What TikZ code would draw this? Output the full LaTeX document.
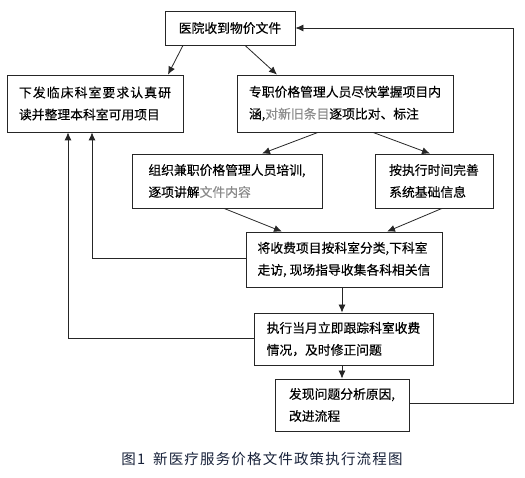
\documentclass[tikz,border=0pt]{standalone}
\usepackage{fontspec}
\newfontfamily\cjk[FakeBold=0.2]{Noto Sans CJK SC}
\newfontfamily\capfont[LetterSpace=8]{Noto Sans CJK SC}
\usetikzlibrary{arrows.meta}
\definecolor{txtgray}{HTML}{8A8A8A}
\definecolor{capblue}{HTML}{18223A}
\tikzset{
  box/.style={draw=black!85, line width=0.8pt, rectangle, inner sep=0pt, font=\cjk\fontsize{12.8}{22}\selectfont},
  conn/.style={draw=black!85, line width=0.8pt, -{Latex[length=8pt,width=7pt]}},
}
\begin{document}
\begin{tikzpicture}[x=1pt,y=-1pt]
\useasboundingbox (0,0) rectangle (525,478);
\fill[white] (0,0) rectangle (525,478);
% boxes
\node[box, minimum width=130pt, minimum height=34pt] (A) at (230,28) {医院收到物价文件};
\node[box, minimum width=176pt, minimum height=57pt, align=left] (B) at (95,103.5)
  {\makebox[152pt][s]{下\hfil 发\hfil 临\hfil 床\hfil 科\hfil 室\hfil 要\hfil 求\hfil 认\hfil 真\hfil 研}\\读并整理本科室可用项目\hspace{12pt}};
\node[box, minimum width=216pt, minimum height=57pt, align=left] (C) at (345,103.5)
  {专职价格管理人员尽快掌握项目内\\涵,{\color{txtgray}对新旧条目}逐项比对、标注\hspace{52pt}};
\node[box, minimum width=190pt, minimum height=54pt, align=left] (D) at (227,181)
  {组织兼职价格管理人员培训,\\逐项讲解{\color{txtgray}文件内容}\hspace{70pt}};
\node[box, minimum width=118pt, minimum height=54pt, align=left] (E) at (434,181)
  {按执行时间完善\\系统基础信息};
\node[box, minimum width=196pt, minimum height=55pt, align=left] (F) at (344,259.5)
  {将收费项目按科室分类,下科室\\走访, 现场指导收集各科相关信};
\node[box, minimum width=179pt, minimum height=52pt, align=left] (G) at (343.5,339)
  {执行当月立即跟踪科室收费\\情况，及时修正问题\hspace{38pt}};
\node[box, minimum width=134pt, minimum height=52pt, align=left] (H) at (342,405)
  {发现问题分析原因,\\改进流程\hspace{60pt}};
% caption
\node[font=\capfont\fontsize{14.5}{16}\selectfont, text=capblue] (cap) at (262,459) {图1\hspace{8pt}新医疗服务价格文件政策执行流程图};
% connectors
\draw[conn] ([xshift=-47pt]A.south) -- ([xshift=73pt]B.north);
\draw[conn] ([xshift=15pt]A.south) -- ([xshift=-68pt]C.north);
\draw[conn] ([xshift=-27pt]C.south) -- ([xshift=35pt]D.north);
\draw[conn] ([xshift=28pt]C.south) -- ([xshift=-4pt]E.north);
\draw[conn] ([xshift=-3pt]D.south) -- ([xshift=-62pt]F.north);
\draw[conn] ([xshift=8pt]E.south) -- ([xshift=43pt]F.north);
\draw[conn] ([xshift=-2pt]F.south) -- ([xshift=-1.5pt]G.north);
\draw[conn] ([xshift=-1.5pt]G.south) -- (H.north);
\coordinate (hr) at (513,403);
\coordinate (ar) at (513,28);
\draw[conn] (H.east |- hr) -- (hr) -- (ar) -- (A.east);
\coordinate (fl) at (92,258);
\draw[conn] (F.west |- fl) -- (fl) -- (fl |- B.south);
\coordinate (gl) at (68,338);
\draw[conn] (G.west |- gl) -- (gl) -- (gl |- B.south);
\end{tikzpicture}
\end{document}
